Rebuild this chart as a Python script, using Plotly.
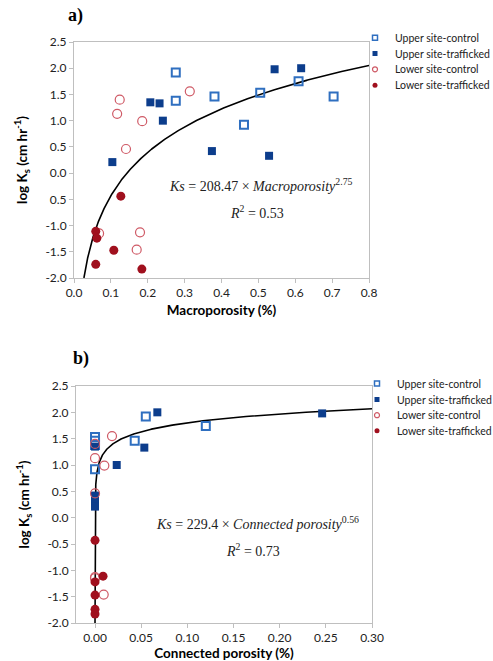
import numpy as np
import plotly.graph_objects as go

# ---- panel a: log Ks versus macroporosity ----
a_upper_ctrl_x = [0.276, 0.276, 0.381, 0.461, 0.505, 0.609, 0.704]
a_upper_ctrl_y = [1.92, 1.38, 1.46, 0.92, 1.53, 1.75, 1.46]
a_upper_traf_x = [0.104, 0.207, 0.232, 0.241, 0.374, 0.529, 0.544, 0.616]
a_upper_traf_y = [0.21, 1.35, 1.33, 1.00, 0.42, 0.33, 1.98, 2.00]
a_lower_ctrl_x = [0.117, 0.124, 0.141, 0.185, 0.314, 0.068, 0.179, 0.170]
a_lower_ctrl_y = [1.13, 1.40, 0.46, 0.99, 1.56, -1.15, -1.13, -1.46]
a_lower_traf_x = [0.127, 0.059, 0.062, 0.108, 0.059, 0.184]
a_lower_traf_y = [-0.44, -1.11, -1.24, -1.47, -1.74, -1.83]

# ---- panel b: log Ks versus connected porosity ----
b_upper_ctrl_x = [0.0, 0.0, 0.0, 0.0, 0.043, 0.055, 0.120]
b_upper_ctrl_y = [1.53, 1.46, 1.38, 0.92, 1.46, 1.92, 1.74]
b_upper_traf_x = [0.0, 0.0, 0.0, 0.0, 0.0235, 0.0534, 0.0675, 0.246]
b_upper_traf_y = [0.42, 0.33, 0.21, 1.35, 1.00, 1.33, 2.00, 1.98]
b_lower_ctrl_x = [0.0, 0.0, 0.0, 0.0101, 0.0184, 0.0, 0.0, 0.0094]
b_lower_ctrl_y = [1.13, 1.40, 0.46, 0.99, 1.55, -1.13, -1.15, -1.46]
b_lower_traf_x = [0.0, 0.0087, 0.0, 0.0, 0.0, 0.0]
b_lower_traf_y = [-0.43, -1.11, -1.22, -1.47, -1.74, -1.83]

# power-law fits Ks = c * x^p, plotted as log10(Ks)
fit_a_coef, fit_a_exp = 208.47, 2.75
fit_b_coef, fit_b_exp = 229.4, 0.56

series_names = ["Upper site-control", "Upper site-trafficked",
                "Lower site-control", "Lower site-trafficked"]

y_tickvals = [-2.0, -1.5, -1.0, -0.5, 0.0, 0.5, 1.0, 1.5, 2.0, 2.5]
a_y_ticktext = ["-2.0", "-1.5", "-1.0", "0.5", "0.0", "0.5", "1.0", "1.5", "2.0", "2.5"]
b_y_ticktext = ["-2.0", "-1.5", "-1.0", "-0.5", "0.0", "0.5", "1.0", "1.5", "2.0", "2.5"]
a_x_tickvals = [0.0, 0.1, 0.2, 0.3, 0.4, 0.5, 0.6, 0.7, 0.8]
b_x_tickvals = [0.00, 0.05, 0.10, 0.15, 0.20, 0.25, 0.30]

W, H = 493, 661
SANS = "Lato, Open Sans, sans-serif"
TICK_FONT = dict(family=SANS, size=12, color="#222")
AXIS_GREY = "#bfbfbf"

styles = [
    dict(symbol="square-open", size=8, color="#2f6fc0", line=dict(width=2, color="#2f6fc0")),
    dict(symbol="square", size=8, color="#0c3d8c", line=dict(width=0)),
    dict(symbol="circle-open", size=9, color="#cf5a66", line=dict(width=1.2, color="#cf5a66")),
    dict(symbol="circle", size=9, color="#a0101e", line=dict(width=0)),
]
legend_styles = [
    dict(symbol="square-open", size=5, color="#2f6fc0", line=dict(width=1.5, color="#2f6fc0")),
    dict(symbol="square", size=5, color="#0c3d8c", line=dict(width=0)),
    dict(symbol="circle-open", size=5, color="#cf5a66", line=dict(width=1.2, color="#cf5a66")),
    dict(symbol="circle", size=5, color="#a0101e", line=dict(width=0)),
]

fig = go.Figure()
legend_layouts = {}


def add_panel(xs_list, ys_list, xref, yref, legend_ids, row_px, legend_left_px,
              coef, exp, x_max):
    # fitted curve, sampled in log space from where it meets the y floor
    x_min = 10 ** ((-2.0 - np.log10(coef)) / exp)
    xc = np.geomspace(x_min, x_max, 800)
    yc = np.log10(coef) + exp * np.log10(xc)
    fig.add_trace(go.Scatter(x=xc, y=yc, mode="lines", xaxis=xref, yaxis=yref,
                             line=dict(color="black", width=1.6), showlegend=False,
                             hoverinfo="skip"))
    for name, xs, ys, st in zip(series_names, xs_list, ys_list, styles):
        fig.add_trace(go.Scatter(x=xs, y=ys, mode="markers", xaxis=xref, yaxis=yref,
                                 name=name, marker=st, showlegend=False))
    # one small legend per series so the rows sit close together
    for name, st, lid, ry in zip(series_names, legend_styles, legend_ids, row_px):
        fig.add_trace(go.Scatter(x=[None], y=[None], mode="markers", xaxis=xref, yaxis=yref,
                                 name=name, marker=st, legend=lid))
        legend_layouts[lid] = dict(
            x=legend_left_px / W, y=1 - ry / H, xanchor="left", yanchor="middle",
            font=dict(family=SANS, size=10.5, color="#222"),
            bgcolor="rgba(0,0,0,0)", itemwidth=30, borderwidth=0)


add_panel([a_upper_ctrl_x, a_upper_traf_x, a_lower_ctrl_x, a_lower_traf_x],
          [a_upper_ctrl_y, a_upper_traf_y, a_lower_ctrl_y, a_lower_traf_y],
          "x", "y", ["legend", "legend2", "legend3", "legend4"],
          [37.7, 53.5, 69.3, 85.3], 355, fit_a_coef, fit_a_exp, 0.8)
add_panel([b_upper_ctrl_x, b_upper_traf_x, b_lower_ctrl_x, b_lower_traf_x],
          [b_upper_ctrl_y, b_upper_traf_y, b_lower_ctrl_y, b_lower_traf_y],
          "x2", "y2", ["legend5", "legend6", "legend7", "legend8"],
          [383.5, 399.5, 415.2, 430.8], 357, fit_b_coef, fit_b_exp, 0.30)

axis_common = dict(showgrid=False, zeroline=False, showline=True, mirror=True,
                   linecolor=AXIS_GREY, linewidth=1, ticks="outside", ticklen=4,
                   tickcolor=AXIS_GREY, tickfont=TICK_FONT, automargin=False)
title_font = dict(family=SANS, size=13.5, color="black", weight="bold")
ytitle = "log K<sub>s</sub> (cm hr<sup>-1</sup>)"

fig.update_layout(
    width=W, height=H, margin=dict(l=0, r=0, t=0, b=0, autoexpand=False),
    paper_bgcolor="white", plot_bgcolor="white",
    xaxis=dict(domain=[74 / W, 369 / W], range=[0, 0.8], tickvals=a_x_tickvals,
               tickformat=".1f", anchor="y",
               title=dict(text="Macroporosity (%)", font=title_font, standoff=6),
               **axis_common),
    yaxis=dict(domain=[1 - 278 / H, 1 - 42 / H], range=[-2, 2.5], tickvals=y_tickvals,
               ticktext=a_y_ticktext, anchor="x",
               title=dict(text=ytitle, font=title_font, standoff=14),
               **axis_common),
    xaxis2=dict(domain=[76 / W, 372 / W], range=[-0.0206, 0.30], tickvals=b_x_tickvals,
                tickformat=".2f", anchor="y2",
                title=dict(text="Connected porosity (%)", font=title_font, standoff=6),
                **axis_common),
    yaxis2=dict(domain=[1 - 623 / H, 1 - 386 / H], range=[-2, 2.5], tickvals=y_tickvals,
                ticktext=b_y_ticktext, anchor="x2",
                title=dict(text=ytitle, font=title_font, standoff=14),
                **axis_common),
    **legend_layouts,
)

eq_font = dict(family="Liberation Serif, DejaVu Serif, serif", size=14, color="#222")


def note(x_px, y_px, text, font, xanchor="left"):
    fig.add_annotation(x=x_px / W, y=1 - y_px / H, xref="paper", yref="paper",
                       xanchor=xanchor, yanchor="middle", showarrow=False,
                       font=font, text=text)


note(167, 185, f"<i>Ks</i> = {fit_a_coef:.2f} × <i>Macroporosity</i><sup>{fit_a_exp:.2f}</sup>", eq_font)
note(228, 212, "<i>R</i><sup>2</sup> = 0.53", eq_font)
note(154, 523, f"<i>Ks</i> = {fit_b_coef:.1f} × <i>Connected porosity</i><sup>{fit_b_exp:.2f}</sup>", eq_font)
note(224, 550, "<i>R</i><sup>2</sup> = 0.73", eq_font)

panel_font = dict(family="Liberation Serif, Times New Roman, serif", size=18, color="black",
                  weight="bold")
note(75, 15, "a)", panel_font, xanchor="center")
note(81, 358, "b)", panel_font, xanchor="center")

fig.write_html("out.html")
